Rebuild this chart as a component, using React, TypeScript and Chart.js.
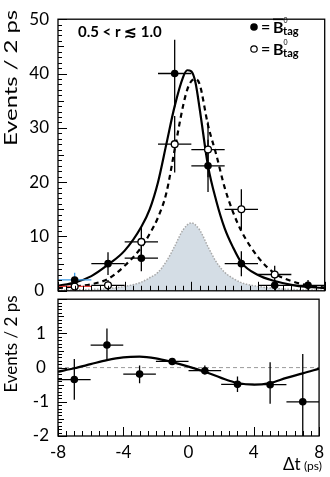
import React, { useEffect, useRef } from "react";
import { Chart, registerables } from "chart.js";
Chart.register(...registerables);

const FONT = "Lato, 'Open Sans', sans-serif";

// Δt bins (ps)
const binCenters = [-7, -5, -3, -1, 1, 3, 5, 7];
const binHalfWidth = 1;

// B̄0 tag (filled markers)
const bbarCounts = [2, 5, 6, 40, 23, 5, 1, 1];
const bbarErrors = [1.3, 2.1, 2.4, 6.2, 4.8, 2.3, 1.0, 1.0];

// B0 tag (open markers)
const bCenters = [-7, -5, -3, -1, 1, 3, 5];
const bCounts = [0.8, 1, 9, 27, 26, 15, 3];
const bErrors = [0.8, 1.0, 2.6, 5.2, 5.1, 3.7, 1.6];

// Fitted curves
const curveT = [-8, -7, -6, -5, -4, -3, -2.5, -2, -1.5, -1, -0.5, -0.25, 0, 0.25, 0.5, 1, 1.5, 2, 2.5, 3, 4, 5, 6, 7, 8];
const bbarCurve = [0.9, 1.5, 2.7, 4.8, 7.4, 11.8, 15, 20, 27, 34, 39.3, 40.6, 40.4, 38.3, 33.5, 23, 16.5, 11.5, 8, 5.2, 2.9, 1.8, 1.1, 0.7, 0.5];
const bCurve = [0.5, 0.8, 1.2, 2.2, 4.6, 8, 10.5, 13.5, 18, 26, 34, 37, 38.6, 39, 38, 30.5, 25, 19, 14.5, 11, 6.2, 3.2, 1.8, 1.0, 0.6];

// Background component
const bkgT = [-8, -6, -5, -4, -3, -2.5, -2, -1.5, -1, -0.5, 0, 0.5, 1, 1.5, 2, 2.5, 3, 4, 5, 6, 8];
const bkgCurve = [0.1, 0.25, 0.4, 0.8, 1.6, 2.4, 3.4, 5.4, 8.2, 11.2, 12.5, 11.2, 8.1, 5.3, 3.4, 2.3, 1.5, 0.8, 0.45, 0.25, 0.1];

// Lower panel
const asymValues = [-0.35, 0.66, -0.19, 0.18, -0.09, -0.49, -0.5, -1.0];
const asymErrLow = [0.59, 0.46, 0.27, 0.05, 0.11, 0.22, 0.56, 1.4];
const asymErrHigh = [0.6, 0.48, 0.25, 0.05, 0.15, 0.23, 0.66, 1.4];
const asymCurveT = [-8, -7, -6, -5, -4, -3, -2, -1, 0, 1, 2, 3, 4, 5, 6, 7, 8];
const asymCurve = [-0.12, -0.02, 0.1, 0.22, 0.3, 0.32, 0.27, 0.16, 0.03, -0.12, -0.3, -0.45, -0.5, -0.45, -0.3, -0.17, -0.03];
const zeroLineT = [-8, 8];

// Tick labels
const topYTicks = [0, 10, 20, 30, 40, 50];
const bottomYTicks = [-2, -1, 0, 1];
const xTickLabels = [-8, -4, 0, 4, 8];

type P = { x: number; y: number | null };

function errorSegments(xs: number[], ys: number[], lo: number[], hi: number[], hw: number): P[] {
  const pts: P[] = [];
  xs.forEach((x, i) => {
    pts.push({ x: x - hw, y: ys[i] }, { x: x + hw, y: ys[i] }, { x, y: null });
    pts.push({ x, y: ys[i] - lo[i] }, { x, y: ys[i] + hi[i] }, { x, y: null });
  });
  return pts;
}

function pick<T>(arr: T[], idx: number[]): T[] {
  return idx.map((i) => arr[i]);
}

function drawInwardTicks(ctx: CanvasRenderingContext2D, chart: any, yMin: number, yMax: number, yMinor: number, yMid: number, yMajor: number, xMinor: number, xMajor: number) {
  const a = chart.chartArea;
  const ys = chart.scales.y;
  const xs = chart.scales.x;
  ctx.save();
  ctx.strokeStyle = "#000";
  ctx.lineWidth = 1;
  ctx.beginPath();
  const ny = Math.round((yMax - yMin) / yMinor);
  for (let i = 0; i <= ny; i++) {
    const v = yMin + i * yMinor;
    const isMaj = Math.abs(v / yMajor - Math.round(v / yMajor)) < 1e-6;
    const isMid = Math.abs(v / yMid - Math.round(v / yMid)) < 1e-6;
    const len = isMaj ? 9 : isMid ? 6 : 4;
    const py = Math.round(ys.getPixelForValue(v)) + 0.5;
    ctx.moveTo(a.left, py);
    ctx.lineTo(a.left + len, py);
  }
  const nx = Math.round(16 / xMinor);
  for (let i = 0; i <= nx; i++) {
    const v = -8 + i * xMinor;
    const isMaj = Math.abs(v / xMajor - Math.round(v / xMajor)) < 1e-6;
    const len = isMaj ? 9 : 5;
    const px = Math.round(xs.getPixelForValue(v)) + 0.5;
    ctx.moveTo(px, a.bottom);
    ctx.lineTo(px, a.bottom - len);
  }
  ctx.stroke();
  ctx.lineWidth = 1.3;
  ctx.strokeRect(a.left, a.top, a.right - a.left, a.bottom - a.top);
  ctx.restore();
}

function drawYTitle(ctx: CanvasRenderingContext2D, cx: number, cy: number, stretch: number) {
  ctx.save();
  ctx.translate(cx, cy);
  ctx.rotate(-Math.PI / 2);
  ctx.scale(stretch, 1);
  ctx.font = `17px ${FONT}`;
  ctx.fillStyle = "#000";
  ctx.textAlign = "center";
  ctx.textBaseline = "middle";
  ctx.fillText("Events / 2 ps", 0, 0);
  ctx.restore();
}

function drawTagLabel(ctx: CanvasRenderingContext2D, x: number, base: number, bar: boolean) {
  ctx.fillStyle = "#000";
  ctx.textBaseline = "alphabetic";
  ctx.textAlign = "left";
  ctx.font = `bold 16px ${FONT}`;
  ctx.fillText("=", x, base - 1);
  const bx = x + 12;
  ctx.font = `bold 16px ${FONT}`;
  ctx.fillText("B", bx, base);
  const bw = ctx.measureText("B").width;
  if (bar) {
    ctx.fillRect(bx, base - 14.5, bw, 1.6);
  }
  ctx.font = `7px ${FONT}`;
  ctx.fillText("0", bx + bw, base - 10);
  ctx.font = `bold 11px ${FONT}`;
  ctx.fillText("tag", bx + bw - 0.5, base + 2);
}

const topDecor = {
  id: "topDecor",
  afterDatasetsDraw(chart: any) {
    const ctx = chart.ctx as CanvasRenderingContext2D;
    drawInwardTicks(ctx, chart, 0, 50, 1, 5, 10, 0.5, 4);
    drawYTitle(ctx, 12, 78, 1.4);
    ctx.save();
    ctx.fillStyle = "#000";
    ctx.font = `bold 15px ${FONT}`;
    ctx.textBaseline = "alphabetic";
    ctx.fillText("0.5 < r \u2272 1.0", 78, 37);
    // legend markers
    ctx.beginPath();
    ctx.arc(254, 27, 3.8, 0, Math.PI * 2);
    ctx.fill();
    drawTagLabel(ctx, 261, 33, true);
    ctx.beginPath();
    ctx.arc(254, 49, 3.2, 0, Math.PI * 2);
    ctx.fillStyle = "#fff";
    ctx.fill();
    ctx.lineWidth = 1.2;
    ctx.strokeStyle = "#000";
    ctx.stroke();
    drawTagLabel(ctx, 261, 55, false);
    ctx.restore();
  },
};

const bottomDecor = {
  id: "bottomDecor",
  afterDatasetsDraw(chart: any) {
    const ctx = chart.ctx as CanvasRenderingContext2D;
    drawInwardTicks(ctx, chart, -2, 2, 0.1, 0.5, 1, 0.5, 4);
    drawYTitle(ctx, 12, 64, 1);
    ctx.save();
    ctx.fillStyle = "#000";
    ctx.textBaseline = "alphabetic";
    ctx.font = `17px ${FONT}`;
    ctx.fillText("\u0394t", 283, 190);
    ctx.font = `12px ${FONT}`;
    ctx.fillText("(ps)", 304, 190);
    ctx.restore();
  },
};

const toPts = (xs: number[], ys: number[]): P[] => xs.map((x, i) => ({ x, y: ys[i] }));

const pointDs = (data: P[], filled: boolean) => ({
  data,
  showLine: false,
  pointRadius: filled ? 3.8 : 3.4,
  pointBackgroundColor: filled ? "#000" : "#fff",
  pointBorderColor: "#000",
  pointBorderWidth: filled ? 0 : 1.3,
  pointStyle: "circle",
});

const segDs = (data: P[], color: string) => ({
  data,
  showLine: true,
  borderColor: color,
  borderWidth: 1.3,
  pointRadius: 0,
  tension: 0,
  spanGaps: false,
});

const curveDs = (data: P[], dash: number[] | undefined, width = 2.2) => ({
  data,
  showLine: true,
  borderColor: "#000",
  borderWidth: width,
  borderDash: dash || [],
  pointRadius: 0,
  cubicInterpolationMode: "monotone",
});

export default function App() {
  const topRef = useRef<HTMLCanvasElement | null>(null);
  const botRef = useRef<HTMLCanvasElement | null>(null);

  useEffect(() => {
    const rest = [1, 2, 3, 4, 5, 6, 7];
    const restB = [1, 2, 3, 4, 5, 6];
    const top = new Chart(topRef.current!, {
      type: "line",
      data: {
        datasets: [
          pointDs(toPts(binCenters, bbarCounts), true),
          pointDs(toPts(bCenters, bCounts), false),
          segDs(errorSegments(pick(binCenters, rest), pick(bbarCounts, rest), pick(bbarErrors, rest), pick(bbarErrors, rest), binHalfWidth), "#000"),
          segDs(errorSegments(pick(bCenters, restB), pick(bCounts, restB), pick(bErrors, restB), pick(bErrors, restB), binHalfWidth), "#000"),
          segDs(errorSegments([binCenters[0]], [bbarCounts[0]], [bbarErrors[0]], [bbarErrors[0]], binHalfWidth), "#3c9be6"),
          segDs(errorSegments([bCenters[0]], [bCounts[0]], [bErrors[0]], [bErrors[0]], binHalfWidth), "#e8413c"),
          curveDs(toPts(curveT, bbarCurve), undefined),
          curveDs(toPts(curveT, bCurve), [5, 4]),
          {
            data: toPts(bkgT, bkgCurve),
            showLine: true,
            fill: "origin",
            backgroundColor: "#d4dde5",
            borderColor: "#a8a8a8",
            borderWidth: 1.5,
            borderDash: [1.5, 1.5],
            pointRadius: 0,
            cubicInterpolationMode: "monotone",
          },
        ] as any,
      },
      options: {
        responsive: false,
        animation: false,
        events: [],
        layout: { padding: { left: 0, right: 4, top: 9, bottom: 18 } },
        plugins: { legend: { display: false }, tooltip: { enabled: false } },
        scales: {
          x: { type: "linear", min: -8, max: 8, display: false },
          y: {
            type: "linear",
            min: 0,
            max: 50,
            afterFit: (s: any) => { s.width = 58; },
            afterBuildTicks: (s: any) => { s.ticks = topYTicks.map((v) => ({ value: v })); },
            grid: { display: false, drawTicks: false },
            border: { display: false },
            ticks: { font: { family: FONT, size: 17 }, color: "#000", padding: 9, crossAlign: "center" },
          },
        },
      },
      plugins: [topDecor],
    });

    const bottom = new Chart(botRef.current!, {
      type: "line",
      data: {
        datasets: [
          pointDs(toPts(binCenters, asymValues), true),
          segDs(errorSegments(binCenters, asymValues, asymErrLow, asymErrHigh, binHalfWidth), "#000"),
          curveDs(toPts(asymCurveT, asymCurve), undefined, 2.2),
          {
            data: toPts(zeroLineT, [0, 0]),
            showLine: true,
            borderColor: "#9a9a9a",
            borderWidth: 1,
            borderDash: [4, 3],
            pointRadius: 0,
          },
        ] as any,
      },
      options: {
        responsive: false,
        animation: false,
        events: [],
        layout: { padding: { left: 0, right: 4, top: 12, bottom: 0 } },
        plugins: { legend: { display: false }, tooltip: { enabled: false } },
        scales: {
          x: {
            type: "linear",
            min: -8,
            max: 8,
            afterFit: (s: any) => { s.height = 41; },
            afterBuildTicks: (s: any) => { s.ticks = xTickLabels.map((v) => ({ value: v })); },
            grid: { display: false, drawTicks: false },
            border: { display: false },
            ticks: { font: { family: FONT, size: 17 }, color: "#000", padding: 6, maxRotation: 0, autoSkip: false },
          },
          y: {
            type: "linear",
            min: -2,
            max: 2,
            afterFit: (s: any) => { s.width = 58; },
            afterBuildTicks: (s: any) => { s.ticks = bottomYTicks.map((v) => ({ value: v })); },
            grid: { display: false, drawTicks: false },
            border: { display: false },
            ticks: { font: { family: FONT, size: 17 }, color: "#000", padding: 9, crossAlign: "center" },
          },
        },
      },
      plugins: [bottomDecor],
    });

    return () => {
      top.destroy();
      bottom.destroy();
    };
  }, []);

  return (
    <div style={{ position: "absolute", left: 0, top: 0, width: 330, height: 477, background: "#fff" }}>
      <canvas ref={topRef} width={330} height={310} style={{ position: "absolute", left: 0, top: 0 }} />
      <canvas ref={botRef} width={330} height={197} style={{ position: "absolute", left: 0, top: 280 }} />
    </div>
  );
}
